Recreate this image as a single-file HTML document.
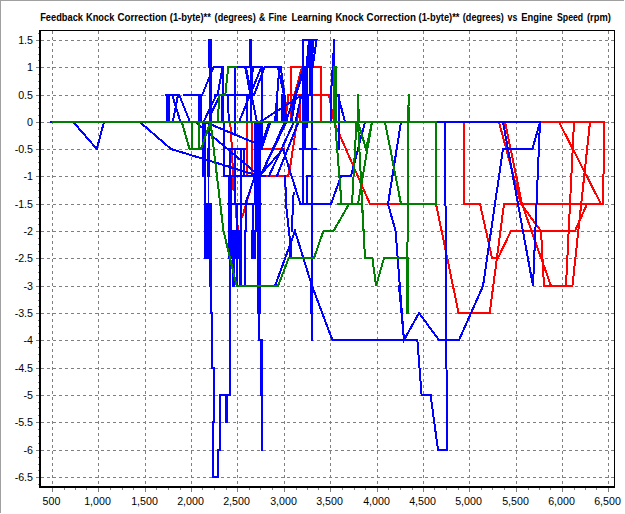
<!DOCTYPE html>
<html><head><meta charset="utf-8"><title>chart</title>
<style>
html,body{margin:0;padding:0;background:#fff;}
body{width:625px;height:514px;overflow:hidden;font-family:"Liberation Sans",sans-serif;}
svg{display:block;}
text{font-family:"Liberation Sans",sans-serif;font-size:10.67px;fill:#000;}
.t{font-size:10.1px;}
.t{font-weight:bold;}
</style></head><body>
<svg width="625" height="514" viewBox="0 0 625 514">
<rect x="0" y="0" width="625" height="514" fill="#fff"/>
<rect x="0" y="0" width="624" height="1" fill="#a0a0a0" shape-rendering="crispEdges"/>
<rect x="0" y="0" width="1" height="513" fill="#a0a0a0" shape-rendering="crispEdges"/>
<path d="M52.5 31V486M98.5 31V486M145.5 31V486M191.5 31V486M237.5 31V486M284.5 31V486M330.5 31V486M377.5 31V486M423.5 31V486M469.5 31V486M516.5 31V486M562.5 31V486M608.5 31V486" stroke="#808080" stroke-width="1" stroke-dasharray="3 3" fill="none" shape-rendering="crispEdges"/>
<path d="M41 40.5H614M41 67.5H614M41 95.5H614M41 122.5H614M41 149.5H614M41 176.5H614M41 204.5H614M41 231.5H614M41 258.5H614M41 286.5H614M41 313.5H614M41 340.5H614M41 368.5H614M41 395.5H614M41 422.5H614M41 450.5H614M41 477.5H614" stroke="#808080" stroke-width="1" stroke-dasharray="3 3" fill="none" shape-rendering="crispEdges"/>
<defs><clipPath id="pc"><rect x="41" y="31" width="573" height="455"/></clipPath></defs>
<g clip-path="url(#pc)"><path d="M52.0 122.0 L604.4 122.0M334.0 122.0 L370.0 204.0 L436.0 204.0 L458.6 313.0 L489.7 313.0 L504.0 204.0 L603.0 204.0M464.0 122.0 L464.0 204.0 L480.0 204.0 L492.0 258.0 L498.0 258.0 L511.0 231.0 L575.0 231.0 L587.0 204.0M499.0 122.0 L521.0 204.0 L541.0 231.0 L544.0 286.0 L572.4 286.0 L590.0 122.0M505.0 122.0 L522.0 204.0 L551.0 286.0M574.0 122.0 L566.0 286.0M559.0 122.0 L601.0 204.0M604.4 122.0 L603.0 204.0M291.0 122.0 L291.0 67.0 L321.0 67.0 L321.0 122.0M302.0 67.0 L294.5 95.0 L288.4 95.0 L285.2 122.0M306.0 67.0 L306.0 95.0M288.0 95.0 L329.0 95.0 L334.0 122.0M300.0 95.0 L300.0 122.0M301.0 95.0 L290.3 166.0 L288.2 176.0 L232.0 176.0M230.2 122.0 L232.0 149.0 L233.5 190.0M246.6 122.0 L246.6 176.0M251.5 122.0 L251.5 176.0M261.8 122.0 L261.8 149.0 L284.0 149.0M235.6 204.0 L235.6 217.0M238.4 226.0 L238.4 242.0M251.1 187.0 L242.3 217.0" stroke="#ff0000" stroke-width="2" fill="none" stroke-linejoin="miter" stroke-linecap="square" shape-rendering="crispEdges"/></g>
<g clip-path="url(#pc)"><path d="M51.0 122.0 L540.0 122.0M73.3 122.0 L96.8 149.0 L104.0 122.0M139.8 122.0 L171.0 149.0 L259.5 176.0M445.0 122.0 L447.0 450.0 L438.0 450.0 L430.6 395.0 L421.6 395.0 L417.4 340.0 L332.4 340.0 L312.0 286.0M399.0 286.0 L404.0 340.0 L419.0 313.0 L439.0 340.0 L459.0 340.0 L483.0 286.0 L503.0 149.0 L532.4 149.0 L540.0 122.0 L533.0 286.0 L503.0 122.0M401.0 122.0 L388.0 204.0 L395.6 231.0 L404.0 340.0M365.0 122.0 L351.0 176.0 L341.0 176.0 L331.0 204.0 L300.4 204.0 L283.0 149.0M338.5 95.0 L338.5 149.0M338.0 95.0 L345.0 122.0M166.0 95.0 L177.3 95.0M183.7 95.0 L202.2 95.0 L213.5 67.0 L223.0 67.0 L223.0 122.0M172.2 95.0 L180.5 122.0M178.0 95.0 L172.8 122.0M179.2 95.0 L190.0 122.0M216.3 95.0 L203.5 122.0M220.0 95.0 L211.0 114.0M215.0 95.0 L254.0 95.0M222.7 67.0 L217.5 95.0M227.5 95.0 L229.0 122.0M234.5 67.0 L234.5 133.0M236.0 67.0 L261.5 67.0 L261.5 149.0M264.7 67.0 L280.7 67.0M264.7 67.0 L254.0 95.0M261.5 67.0 L239.0 122.0M245.9 67.0 L257.0 122.0M245.2 67.0 L250.5 95.0 L253.0 67.0M250.5 95.0 L250.5 122.0M247.3 95.0 L247.3 122.0M275.0 122.0 L279.4 67.0 L280.7 67.0 L284.5 95.0 L286.0 122.0M277.8 67.0 L284.0 95.0M276.6 95.0 L276.6 122.0M260.0 122.0 L302.0 95.0M286.0 122.0 L304.0 67.0M291.6 122.0 L296.0 95.0M295.5 122.0 L301.0 97.0M259.5 176.0 L283.0 149.0M260.0 176.0 L286.5 122.0M264.5 168.0 L284.8 122.0M269.0 176.0 L294.0 122.0M277.0 176.0 L298.5 122.0M261.2 146.0 L269.2 122.0M262.6 146.0 L270.6 122.0M259.5 176.0 L195.5 122.0M205.0 122.0 L262.0 146.0M265.2 134.0 L261.4 144.0M303.3 122.0 L303.3 40.0 L316.5 40.0 L312.6 67.0M309.0 40.0 L306.5 67.0M310.5 40.0 L308.0 67.0M312.0 40.0 L309.5 67.0M313.5 40.0 L311.5 67.0M305.0 67.0 L294.0 100.0 L291.0 122.0M299.5 149.0 L315.6 149.0M303.4 149.0 L303.4 204.0M307.0 176.0 L307.0 204.0M307.0 176.0 L312.0 176.0M311.8 40.0 L311.8 340.0M334.3 40.0 L334.3 122.0M334.3 40.0 L331.0 95.0 L330.6 122.0M208.7 122.0 L208.7 176.0M224.2 122.0 L224.2 176.0 L265.0 176.0M229.3 149.0 L245.3 149.0M230.0 149.0 L230.0 395.0M235.0 149.0 L235.0 204.0M240.8 149.0 L240.8 204.0M244.0 149.0 L244.0 176.0M228.0 204.0 L261.4 204.0M237.3 204.0 L237.3 231.0M241.2 204.0 L241.2 231.0M246.3 204.0 L246.3 231.0M252.5 204.0 L252.5 231.0M260.4 204.0 L260.4 231.0M255.0 176.0 L245.3 204.0M245.3 231.0 L245.3 286.0M210.6 286.0 L210.6 313.0 L212.0 313.0 L212.0 368.0 L214.0 368.0 L214.0 422.0 L212.8 422.0 L213.0 477.0 L218.0 477.0 L218.0 450.0 L220.0 450.0 L220.0 395.0 L230.0 395.0M259.0 313.0 L259.0 340.0 L261.6 340.0 L261.6 450.0M285.2 176.0 L286.0 204.0 L289.6 237.0 L290.3 258.0M293.6 193.0 L292.7 212.0 L291.7 231.0M275.0 286.0 L295.0 231.0 L312.0 286.0" stroke="#0000ff" stroke-width="2" fill="none" stroke-linejoin="miter" stroke-linecap="square" shape-rendering="crispEdges"/><path d="M165.8 94.0H169.6V123.0H165.8ZM198.4 94.0H201.6V123.0H198.4ZM207.9 39.0H211.9V68.0H207.9ZM209.0 66.0H212.2V123.0H209.0ZM221.4 94.0H224.0V123.0H221.4ZM249.1 39.0H252.2V68.0H249.1ZM249.6 66.0H253.0V96.0H249.6ZM281.0 94.0H284.5V123.0H281.0ZM303.0 66.0H307.5V96.0H303.0ZM308.8 66.0H312.6V96.0H308.8ZM302.4 94.0H309.4V123.0H302.4ZM302.4 121.0H308.0V128.0H302.4ZM302.4 121.0H306.2V150.0H302.4ZM310.3 285.0H313.3V314.0H310.3ZM202.3 121.0H205.5V150.0H202.3ZM202.3 148.0H206.0V177.0H202.3ZM206.6 148.0H209.4V177.0H206.6ZM204.3 175.0H206.2V205.0H204.3ZM207.5 175.0H209.4V205.0H207.5ZM204.0 203.0H212.0V259.0H204.0ZM209.0 257.0H212.0V287.0H209.0ZM254.3 121.0H261.4V205.0H254.3ZM228.2 175.0H232.2V232.0H228.2ZM254.8 203.0H258.7V232.0H254.8ZM228.0 230.0H242.0V259.0H228.0ZM251.4 230.0H255.9V259.0H251.4ZM256.5 230.0H261.0V314.0H256.5ZM228.8 257.0H231.0V287.0H228.8ZM232.2 257.0H235.0V287.0H232.2ZM236.1 257.0H237.8V287.0H236.1ZM239.0 257.0H241.8V287.0H239.0ZM225.0 394.0H228.0V423.0H225.0ZM259.8 339.0H262.6V396.0H259.8ZM288.8 241.0H291.8V259.0H288.8Z" fill="#0000ff" stroke="none" shape-rendering="crispEdges"/></g>
<g clip-path="url(#pc)"><path d="M53.0 122.0 L436.0 122.0 L436.0 204.0 L401.0 204.0 L385.0 122.0M408.6 95.0 L407.0 313.0M406.0 258.0 L384.0 258.0 L376.0 286.0 L372.4 258.0 L365.0 258.0 L362.0 204.0 L358.0 204.0M181.8 122.0 L189.5 149.0 L201.0 149.0 L210.5 122.0 L223.5 231.0 L236.7 286.0 L278.0 286.0 L288.8 258.0 L314.0 258.0 L323.4 231.0 L333.5 231.0 L349.0 204.0 L338.0 204.0M191.7 122.0 L191.7 149.0M199.0 122.0 L199.0 149.0M217.6 122.0 L219.5 95.0 L225.3 95.0 L228.2 67.0 L236.0 67.0M335.0 122.0 L341.6 204.0M356.5 122.0 L352.0 204.0M358.0 95.0 L358.0 122.0M338.0 204.0 L362.0 204.0M358.0 122.0 L366.0 149.0 L372.0 122.0 L358.0 204.0M358.0 122.0 L365.0 258.0" stroke="#008000" stroke-width="2" fill="none" stroke-linejoin="miter" stroke-linecap="square" shape-rendering="crispEdges"/><path d="M407.3 107.0H409.8V123.0H407.3ZM406.3 257.0H408.6V314.0H406.3ZM333.2 66.0H336.8V123.0H333.2ZM356.6 109.0H359.6V123.0H356.6Z" fill="#008000" stroke="none" shape-rendering="crispEdges"/></g>
<path d="M52.5 488V492M98.5 488V492M145.5 488V492M191.5 488V492M237.5 488V492M284.5 488V492M330.5 488V492M377.5 488V492M423.5 488V492M469.5 488V492M516.5 488V492M562.5 488V492M608.5 488V492M64.5 488V490M75.5 488V490M86.5 488V490M110.5 488V490M122.5 488V490M133.5 488V490M156.5 488V490M168.5 488V490M180.5 488V490M202.5 488V490M214.5 488V490M226.5 488V490M249.5 488V490M260.5 488V490M272.5 488V490M296.5 488V490M307.5 488V490M318.5 488V490M342.5 488V490M354.5 488V490M365.5 488V490M388.5 488V490M400.5 488V490M412.5 488V490M434.5 488V490M446.5 488V490M458.5 488V490M481.5 488V490M492.5 488V490M504.5 488V490M528.5 488V490M539.5 488V490M550.5 488V490M574.5 488V490M585.5 488V490M596.5 488V490M36 40.5H39M36 67.5H39M36 95.5H39M36 122.5H39M36 149.5H39M36 176.5H39M36 204.5H39M36 231.5H39M36 258.5H39M36 286.5H39M36 313.5H39M36 340.5H39M36 368.5H39M36 395.5H39M36 422.5H39M36 450.5H39M36 477.5H39M38 47.5H39M38 54.5H39M38 60.5H39M38 74.5H39M38 81.5H39M38 88.5H39M38 102.5H39M38 108.5H39M38 115.5H39M38 129.5H39M38 136.5H39M38 142.5H39M38 156.5H39M38 162.5H39M38 169.5H39M38 183.5H39M38 190.5H39M38 197.5H39M38 211.5H39M38 218.5H39M38 224.5H39M38 238.5H39M38 244.5H39M38 251.5H39M38 265.5H39M38 272.5H39M38 279.5H39M38 293.5H39M38 300.5H39M38 306.5H39M38 320.5H39M38 326.5H39M38 333.5H39M38 347.5H39M38 354.5H39M38 361.5H39M38 375.5H39M38 382.5H39M38 388.5H39M38 402.5H39M38 408.5H39M38 415.5H39M38 429.5H39M38 436.5H39M38 443.5H39M38 457.5H39M38 464.5H39M38 470.5H39M38 33.5H39M38 484.5H39" stroke="#808080" stroke-width="1" fill="none" shape-rendering="crispEdges"/>
<rect x="39" y="30" width="2" height="458" fill="#000" shape-rendering="crispEdges"/>
<rect x="39" y="486" width="576" height="2" fill="#000" shape-rendering="crispEdges"/>
<rect x="39" y="30" width="576" height="1" fill="#000" shape-rendering="crispEdges"/>
<rect x="614" y="30" width="1" height="458" fill="#000" shape-rendering="crispEdges"/>
<text x="51.5" y="505" text-anchor="middle">500</text>
<text x="97.5" y="505" text-anchor="middle">1,000</text>
<text x="144.5" y="505" text-anchor="middle">1,500</text>
<text x="190.5" y="505" text-anchor="middle">2,000</text>
<text x="236.5" y="505" text-anchor="middle">2,500</text>
<text x="283.5" y="505" text-anchor="middle">3,000</text>
<text x="329.5" y="505" text-anchor="middle">3,500</text>
<text x="376.5" y="505" text-anchor="middle">4,000</text>
<text x="422.5" y="505" text-anchor="middle">4,500</text>
<text x="468.5" y="505" text-anchor="middle">5,000</text>
<text x="515.5" y="505" text-anchor="middle">5,500</text>
<text x="561.5" y="505" text-anchor="middle">6,000</text>
<text x="607.5" y="505" text-anchor="middle">6,500</text>
<text x="33" y="44" text-anchor="end">1.5</text>
<text x="33" y="71" text-anchor="end">1</text>
<text x="33" y="99" text-anchor="end">0.5</text>
<text x="33" y="126" text-anchor="end">0</text>
<text x="33" y="153" text-anchor="end">-0.5</text>
<text x="33" y="180" text-anchor="end">-1</text>
<text x="33" y="208" text-anchor="end">-1.5</text>
<text x="33" y="235" text-anchor="end">-2</text>
<text x="33" y="262" text-anchor="end">-2.5</text>
<text x="33" y="290" text-anchor="end">-3</text>
<text x="33" y="317" text-anchor="end">-3.5</text>
<text x="33" y="344" text-anchor="end">-4</text>
<text x="33" y="372" text-anchor="end">-4.5</text>
<text x="33" y="399" text-anchor="end">-5</text>
<text x="33" y="426" text-anchor="end">-5.5</text>
<text x="33" y="454" text-anchor="end">-6</text>
<text x="33" y="481" text-anchor="end">-6.5</text>
<text class="t" x="40.2" y="21" textLength="42.8" lengthAdjust="spacingAndGlyphs">Feedback</text>
<text class="t" x="86.0" y="21" textLength="28.3" lengthAdjust="spacingAndGlyphs">Knock</text>
<text class="t" x="117.5" y="21" textLength="49.3" lengthAdjust="spacingAndGlyphs">Correction</text>
<text class="t" x="169.8" y="21" textLength="41.1" lengthAdjust="spacingAndGlyphs">(1-byte)**</text>
<text class="t" x="214.6" y="21" textLength="41.1" lengthAdjust="spacingAndGlyphs">(degrees)</text>
<text class="t" x="258.9" y="21" textLength="6.3" lengthAdjust="spacingAndGlyphs">&amp;</text>
<text class="t" x="268.4" y="21" textLength="18.5" lengthAdjust="spacingAndGlyphs">Fine</text>
<text class="t" x="291.4" y="21" textLength="40.8" lengthAdjust="spacingAndGlyphs">Learning</text>
<text class="t" x="335.4" y="21" textLength="28.3" lengthAdjust="spacingAndGlyphs">Knock</text>
<text class="t" x="366.6" y="21" textLength="49.3" lengthAdjust="spacingAndGlyphs">Correction</text>
<text class="t" x="418.6" y="21" textLength="40.8" lengthAdjust="spacingAndGlyphs">(1-byte)**</text>
<text class="t" x="462.8" y="21" textLength="41.0" lengthAdjust="spacingAndGlyphs">(degrees)</text>
<text class="t" x="507.6" y="21" textLength="9.8" lengthAdjust="spacingAndGlyphs">vs</text>
<text class="t" x="521.2" y="21" textLength="31.3" lengthAdjust="spacingAndGlyphs">Engine</text>
<text class="t" x="557.0" y="21" textLength="26.2" lengthAdjust="spacingAndGlyphs">Speed</text>
<text class="t" x="587.0" y="21" textLength="23.9" lengthAdjust="spacingAndGlyphs">(rpm)</text>
</svg>
</body></html>
